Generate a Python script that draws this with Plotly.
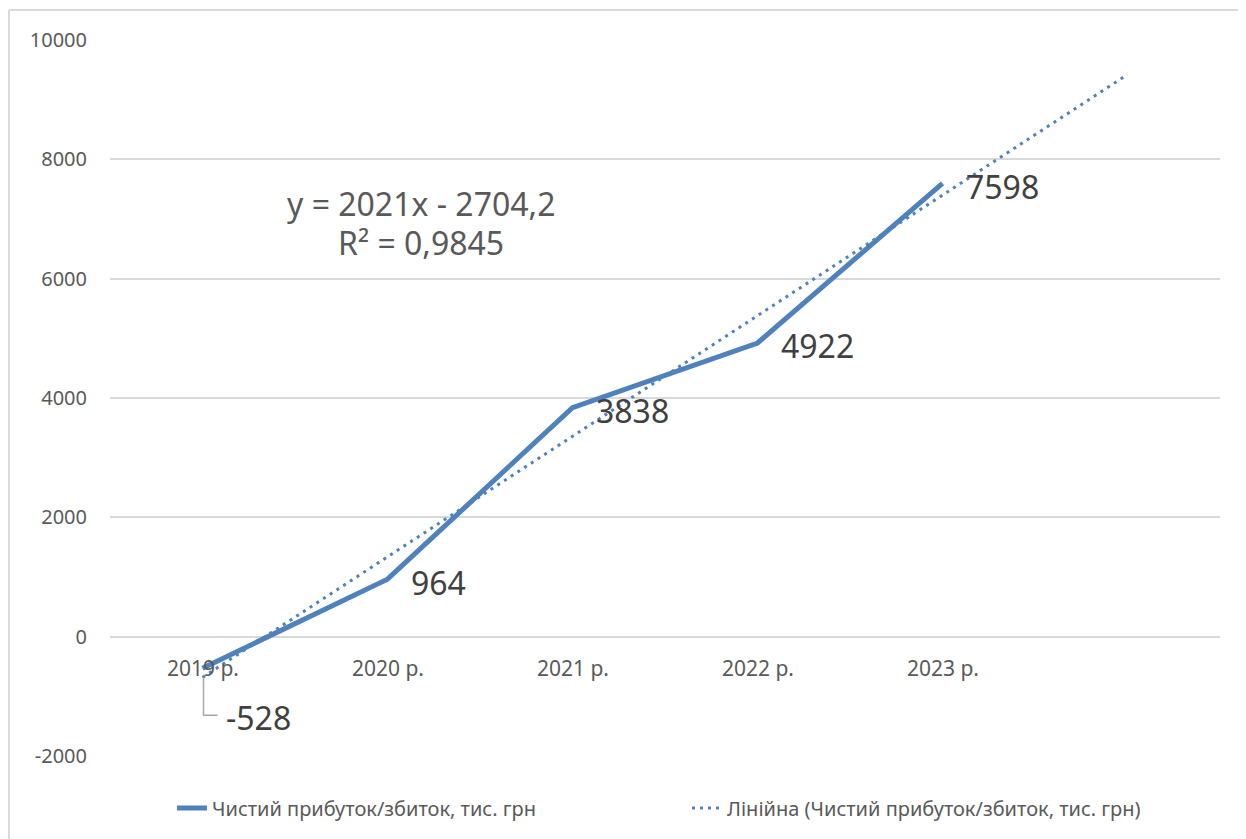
import numpy as np
import plotly.graph_objects as go

# ---- data ----
categories = ["2019 р.", "2020 р.", "2021 р.", "2022 р.", "2023 р."]
profit = [-528, 964, 3838, 4922, 7598]
series_name = "Чистий прибуток/збиток, тис. грн"
trend_name = "Лінійна (Чистий прибуток/збиток, тис. грн)"
equation_lines = ["y = 2021x - 2704,2", "R² = 0,9845"]
y_ticks = [-2000, 0, 2000, 4000, 6000, 8000, 10000]
forecast_periods = 1

LINE_COLOR = "#4F81BD"
GRID = "#D9D9D9"
TXT = "#595959"
LBL = "#404040"
FONT = "Noto Sans"

# layout geometry (figure pixels; page body adds an 8px offset)
W, H = 1246, 839
ML, MR, MT, MB = 102, 34, 32, 91
PW, PH = W - ML - MR, H - MT - MB


def px(xp):  # page x pixel -> paper
    return (xp - 8 - ML) / PW


def py(yp):  # page y pixel -> paper
    return (H - MB - (yp - 8)) / PH


x_idx = list(range(1, len(categories) + 1))
slope, intercept = np.polyfit(x_idx, profit, 1)
x_trend = [x_idx[0], x_idx[-1] + forecast_periods]
y_trend = [slope * x + intercept for x in x_trend]

fig = go.Figure()
fig.add_trace(go.Scatter(
    x=x_idx, y=profit, mode="lines", name=series_name, legend="legend",
    line=dict(color=LINE_COLOR, width=5, shape="linear"),
))
fig.add_trace(go.Scatter(
    x=x_trend, y=y_trend, mode="lines", name=trend_name, legend="legend2",
    line=dict(color=LINE_COLOR, width=3, dash="3px,5px"),
))

# category labels along the zero line
for xi, cat in zip(x_idx, categories):
    fig.add_annotation(x=xi, y=0, text=cat, showarrow=False, yshift=-31,
                       font=dict(family=FONT, size=21, color=TXT))

# data labels
for xi, v in zip(x_idx, profit):
    if v < 0:
        fig.add_annotation(x=xi, y=v, text=str(v), showarrow=False,
                           xanchor="left", xshift=21, yshift=-49,
                           font=dict(family=FONT, size=32, color=LBL))
        fig.add_shape(type="path", xref="x", yref="y",
                      xsizemode="pixel", ysizemode="pixel",
                      xanchor=xi, yanchor=v,
                      path="M 1,-9 L 1,-47 L 15,-47",
                      line=dict(color="#A6A6A6", width=1.5))
    else:
        fig.add_annotation(x=xi, y=v, text=str(v), showarrow=False,
                           xanchor="left", xshift=21, yshift=-3,
                           font=dict(family=FONT, size=32, color=LBL))

# equation
for line_text, yp in zip(equation_lines, [203, 243]):
    fig.add_annotation(xref="paper", yref="paper", x=px(421), y=py(yp),
                       xanchor="center", yanchor="middle",
                       text=line_text, showarrow=False,
                       font=dict(family=FONT, size=32, color=TXT))

# chart border (left and top visible)
fig.add_shape(type="line", xref="paper", yref="paper",
              x0=px(9), x1=px(9), y0=py(10), y1=py(900),
              line=dict(color=GRID, width=2))
fig.add_shape(type="line", xref="paper", yref="paper",
              x0=px(9), x1=px(1300), y0=py(10), y1=py(10),
              line=dict(color=GRID, width=2))

legend_common = dict(orientation="h", yanchor="middle",
                     font=dict(family=FONT, size=20, color=TXT),
                     itemwidth=30, bgcolor="rgba(0,0,0,0)")

fig.update_layout(
    width=W, height=H,
    margin=dict(l=ML, r=MR, t=MT, b=MB),
    paper_bgcolor="white", plot_bgcolor="white",
    font=dict(family=FONT, color=TXT),
    showlegend=True,
    legend=dict(x=px(172), xanchor="left", y=py(808), **legend_common),
    legend2=dict(x=px(1146), xanchor="right", y=py(808), **legend_common),
    xaxis=dict(range=[0.5, 6.5], showgrid=False, zeroline=False,
               showticklabels=False, ticks="", showline=False),
    yaxis=dict(range=[-2000, 10000], tickvals=y_ticks,
               ticktext=[str(t) for t in y_ticks],
               showgrid=True, gridcolor=GRID, gridwidth=1.5,
               zeroline=False, showline=False, ticks="",
               ticklabelstandoff=22,
               tickfont=dict(family=FONT, size=20, color=TXT)),
)

fig.write_html("out.html")
